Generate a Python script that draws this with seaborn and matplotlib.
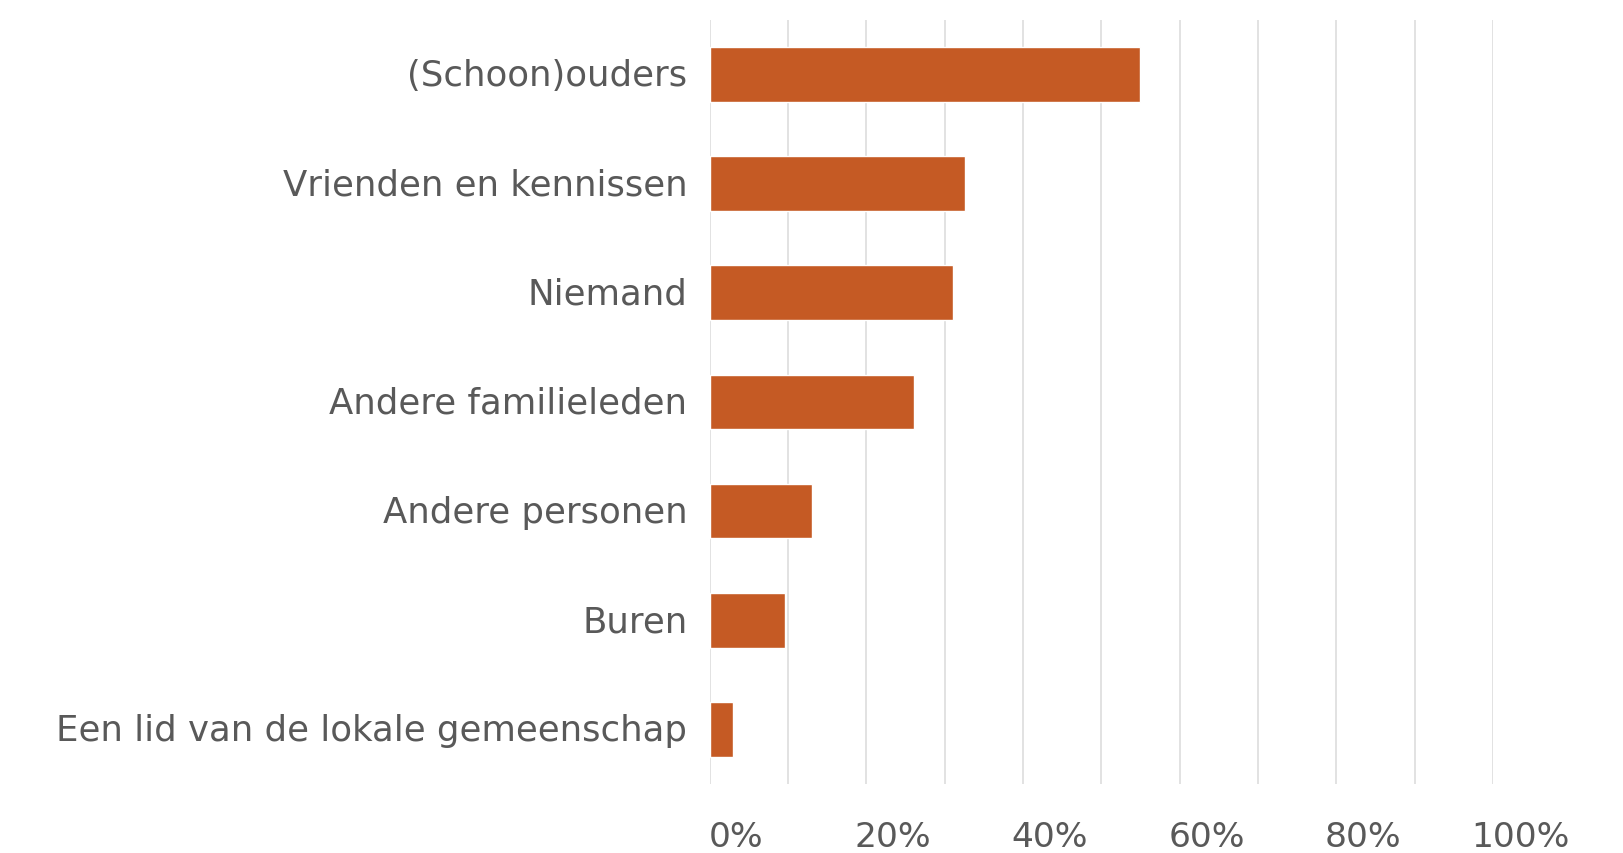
import numpy as np
import pandas as pd
import matplotlib
matplotlib.use("Agg")
import matplotlib.pyplot as plt
import matplotlib.transforms as mtransforms
import seaborn as sns

categories = [
    "(Schoon)ouders",
    "Vrienden en kennissen",
    "Niemand",
    "Andere familieleden",
    "Andere personen",
    "Buren",
    "Een lid van de lokale gemeenschap",
]
values = [0.550, 0.326, 0.311, 0.261, 0.131, 0.097, 0.030]
tick_values = [0.0, 0.1, 0.2, 0.3, 0.4, 0.5, 0.6, 0.7, 0.8, 0.9, 1.0]
tick_labels = ["0%", "", "20%", "", "40%", "", "60%", "", "80%", "", "100%"]

BAR_COLOR = "#C55A24"
TEXT_COLOR = "#595959"
GRID_COLOR = "#DDDDDD"

sns.set_theme(style="white")
plt.rcParams["font.family"] = ["DejaVu Sans"]

df = pd.DataFrame({"categorie": categories, "waarde": values})

fig = plt.figure(figsize=(16.23, 8.54), dpi=100)
ax = fig.add_axes([709.5 / 1623, (854 - 785) / 854, (1493 - 709.5) / 1623, (785 - 20.7) / 854])

sns.barplot(data=df, x="waarde", y="categorie", orient="h", color=BAR_COLOR,
            saturation=1, width=0.5, ax=ax, zorder=3)

ax.set_xlim(0, 1.0)
ax.set_ylim(6.5, -0.5)
ax.set_xticks(tick_values)
ax.set_xticklabels(tick_labels)
ax.xaxis.grid(True, color=GRID_COLOR, linewidth=1.2, zorder=0)
ax.yaxis.grid(False)
ax.set_axisbelow(True)
for s in ax.spines.values():
    s.set_visible(False)
ax.set_xlabel("")
ax.set_ylabel("")
ax.tick_params(axis="x", length=0, pad=26, labelsize=24.8, labelcolor=TEXT_COLOR)
ax.tick_params(axis="y", length=0, pad=16, labelsize=25.6, labelcolor=TEXT_COLOR)

offset = mtransforms.ScaledTranslation(27 / 100, 0, fig.dpi_scale_trans)
for lab in ax.get_xticklabels():
    lab.set_transform(lab.get_transform() + offset)

yoffset = mtransforms.ScaledTranslation(0, 2.5 / 100, fig.dpi_scale_trans)
for lab in ax.get_yticklabels():
    lab.set_transform(lab.get_transform() + yoffset)

fig.savefig("out.png", dpi=100, facecolor="white")
